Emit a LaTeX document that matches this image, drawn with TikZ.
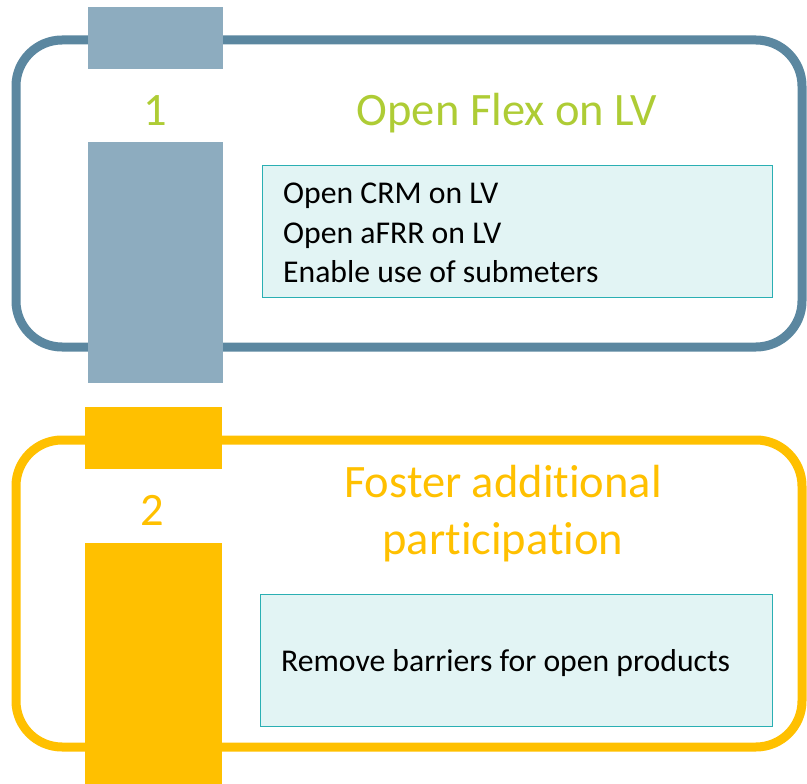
\documentclass[tikz,border=0pt]{standalone}
\usepackage{fontspec}
\setmainfont{Carlito}[Ligatures={NoCommon,NoRequired,NoContextual}]
\definecolor{bluestroke}{HTML}{5B87A0}
\definecolor{bluefill}{HTML}{8DACBF}
\definecolor{titlegreen}{HTML}{AECC35}
\definecolor{orangec}{HTML}{FFC000}
\definecolor{tealfill}{HTML}{E2F4F4}
\definecolor{tealline}{HTML}{2AAFB3}
\begin{document}
\begin{tikzpicture}[x=1pt,y=-1pt,
  outline/.style={line width=9pt,rounded corners=46pt},
  colblock/.style={draw=none,inner sep=0pt,anchor=north west},
  textbox/.style={draw=tealline,fill=tealfill,line width=1.4pt,inner sep=0pt,anchor=north west},
  bodytext/.style={font=\fontsize{31.7}{39}\selectfont,inner sep=0pt,anchor=base west,text=black},
  titletext/.style={font=\fontsize{46.5}{57}\selectfont,inner sep=0pt,anchor=base},
  numtext/.style={font=\fontsize{46.5}{57}\selectfont,inner sep=0pt,anchor=base}]
\useasboundingbox (0,0) rectangle (807,784);
% box 1
\draw[outline,draw=bluestroke] (16,40) rectangle (802,347);
\node[colblock,fill=bluefill,minimum width=135pt,minimum height=62pt] (c1top) at (88,7) {};
\node[colblock,fill=bluefill,minimum width=135pt,minimum height=241pt] (c1bot) at (88,142) {};
\node[numtext,text=titlegreen] (n1) at (155,125) {1};
\node[titletext,text=titlegreen] (t1) at (507,125) {Open Flex on LV};
\node[textbox,minimum width=510pt,minimum height=132pt] (b1) at (262,165) {};
\node[bodytext] (b1l1) at (283,204) {Open CRM on LV};
\node[bodytext] (b1l2) at (283,243) {Open aFRR on LV};
\node[bodytext] (b1l3) at (283,282) {Enable use of submeters};
% box 2
\draw[outline,draw=orangec] (16,440) rectangle (802,747);
\node[colblock,fill=orangec,minimum width=137pt,minimum height=62pt] (c2top) at (85,407) {};
\node[colblock,fill=orangec,minimum width=137pt,minimum height=241pt] (c2bot) at (85,543) {};
\node[numtext,text=orangec] (n2) at (152,525) {2};
\node[titletext,text=orangec] (t2a) at (503,497) {Foster additional};
\node[titletext,text=orangec] (t2b) at (503,554) {participation};
\node[textbox,minimum width=512pt,minimum height=132pt] (b2) at (260,594) {};
\node[bodytext] (b2l1) at (281,671) {Remove barriers for open products};
\end{tikzpicture}
\end{document}
